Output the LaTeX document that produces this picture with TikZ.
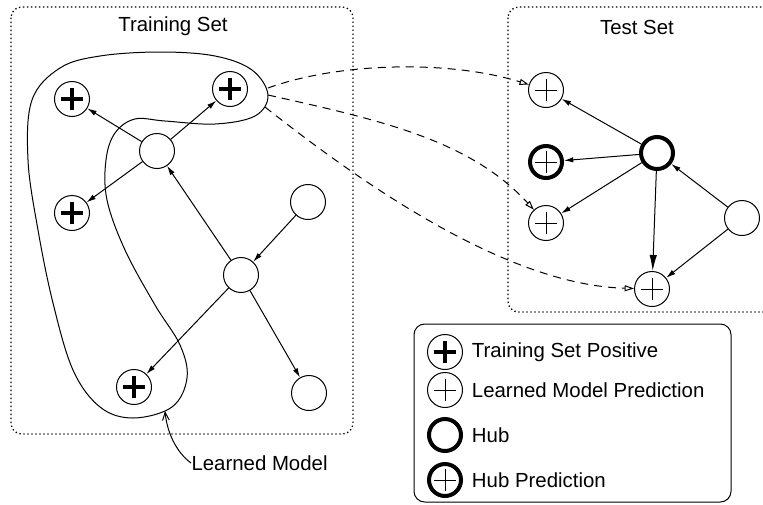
\documentclass[tikz,border=0pt]{standalone}
\usepackage{fontspec}
\setmainfont{Liberation Sans}
\usetikzlibrary{arrows.meta,positioning}

\begin{document}
\begin{tikzpicture}[x=0.75pt, y=-0.75pt, line width=0.75pt,
  font=\fontsize{15.3}{18}\selectfont,
  >={Latex[length=7pt,width=4pt]},
  vtx/.style={draw, circle, minimum size=26.25pt, inner sep=0pt},
  hubvtx/.style={vtx, line width=3pt, minimum size=24pt},
  trpos/.style={vtx, path picture={
    \draw[line width=3pt] (path picture bounding box.center) ++(-8.5pt,0) -- ++(17pt,0);
    \draw[line width=3pt] (path picture bounding box.center) ++(0,-8.5pt) -- ++(0,17pt);}},
  thinplus/.style={path picture={
    \draw[line width=0.75pt] (path picture bounding box.center) ++(-8.25pt,0) -- ++(16.5pt,0);
    \draw[line width=0.75pt] (path picture bounding box.center) ++(0,-8.25pt) -- ++(0,16.5pt);}},
  pred/.style={vtx, thinplus},
  hubpred/.style={hubvtx, thinplus},
  setbox/.style={draw, line width=1pt, dash pattern=on 1pt off 2pt, rounded corners=8pt},
  model/.style={dash pattern=on 6pt off 4.5pt, -{Triangle[open,length=7pt,width=4.5pt]}}]
\useasboundingbox (0,0) rectangle (763,504);
% the two sets
\draw[setbox] (11,7) rectangle (353,434);
\draw[setbox] (508,7) rectangle (790,312);
\node (trtitle) at (173,26) {Training Set};
\node (tetitle) at (637,27) {Test Set};
% training graph
\node[trpos] (p1) at (72,99) {};
\node[trpos] (p2) at (230,89) {};
\node[vtx] (c) at (157,151) {};
\node[trpos] (p3) at (72,213) {};
\node[vtx] (r) at (308,202) {};
\node[vtx] (m) at (241,275) {};
\node[trpos] (p4) at (134,387) {};
\node[vtx] (b) at (309,393) {};
\draw[->] (c) -- (p1);
\draw[->] (c) -- (p2);
\draw[->] (c) -- (p3);
\draw[->] (m) -- (c);
\draw[->] (r) -- (m);
\draw[->] (m) -- (p4);
\draw[->] (m) -- (b);
% learned model outline
\draw plot[smooth cycle, tension=0.6] coordinates {
  (160,52) (215,56) (252,70) (268,95) (255,116) (215,124) (165,121)
  (135,119) (115,133) (106,160) (107,200) (125,250) (155,305) (180,345)
  (187,378) (172,407) (133,418) (100,407) (73,370) (53,303) (38,230)
  (28,160) (32,100) (60,68) (100,56)};
\coordinate (l1) at (268,88);
\coordinate (l2) at (268,95);
\coordinate (l3) at (265,107);
\coordinate (ltip) at (165,411);
\node[anchor=west, inner sep=0pt] (lm) at (191,463) {Learned Model};
\draw[-{Straight Barb[length=6pt,width=5pt]}] (lm.west) .. controls (176,452) and (167,432) .. (ltip);
% test graph
\node[pred] (t1) at (546,90) {};
\node[hubvtx] (h) at (657,153) {};
\node[hubpred] (t2) at (546,162) {};
\node[pred] (t3) at (546,223) {};
\node[vtx] (r2) at (742,218) {};
\node[pred] (t4) at (652,289) {};
\draw[->] (h) -- (t1);
\draw[->] (h) -- (t2);
\draw[->] (h) -- (t3);
\draw[-{Latex[length=12pt,width=5.5pt]}] (h) -- (t4);
\draw[->] (r2) -- (h);
\draw[->] (r2) -- (t4);
% predictions of the learned model
\draw[model] (l1) .. controls (340,62) and (450,60) .. (t1);
\draw[model] (l2) .. controls (380,120) and (470,140) .. (t3);
\draw[model] (l3) .. controls (370,190) and (510,285) .. (t4);
% legend
\draw[rounded corners=8pt] (414,324) rectangle (731,502);
\node[trpos] (k1) at (445,352) {};
\node[pred] (k2) at (445,390) {};
\node[hubvtx] (k3) at (445,435) {};
\node[hubpred] (k4) at (445,480) {};
\node[right=3pt of k1] (k1txt) {Training Set Positive};
\node[right=3pt of k2] (k2txt) {Learned Model Prediction};
\node[right=3pt of k3] (k3txt) {Hub};
\node[right=3pt of k4] (k4txt) {Hub Prediction};
\end{tikzpicture}
\end{document}
